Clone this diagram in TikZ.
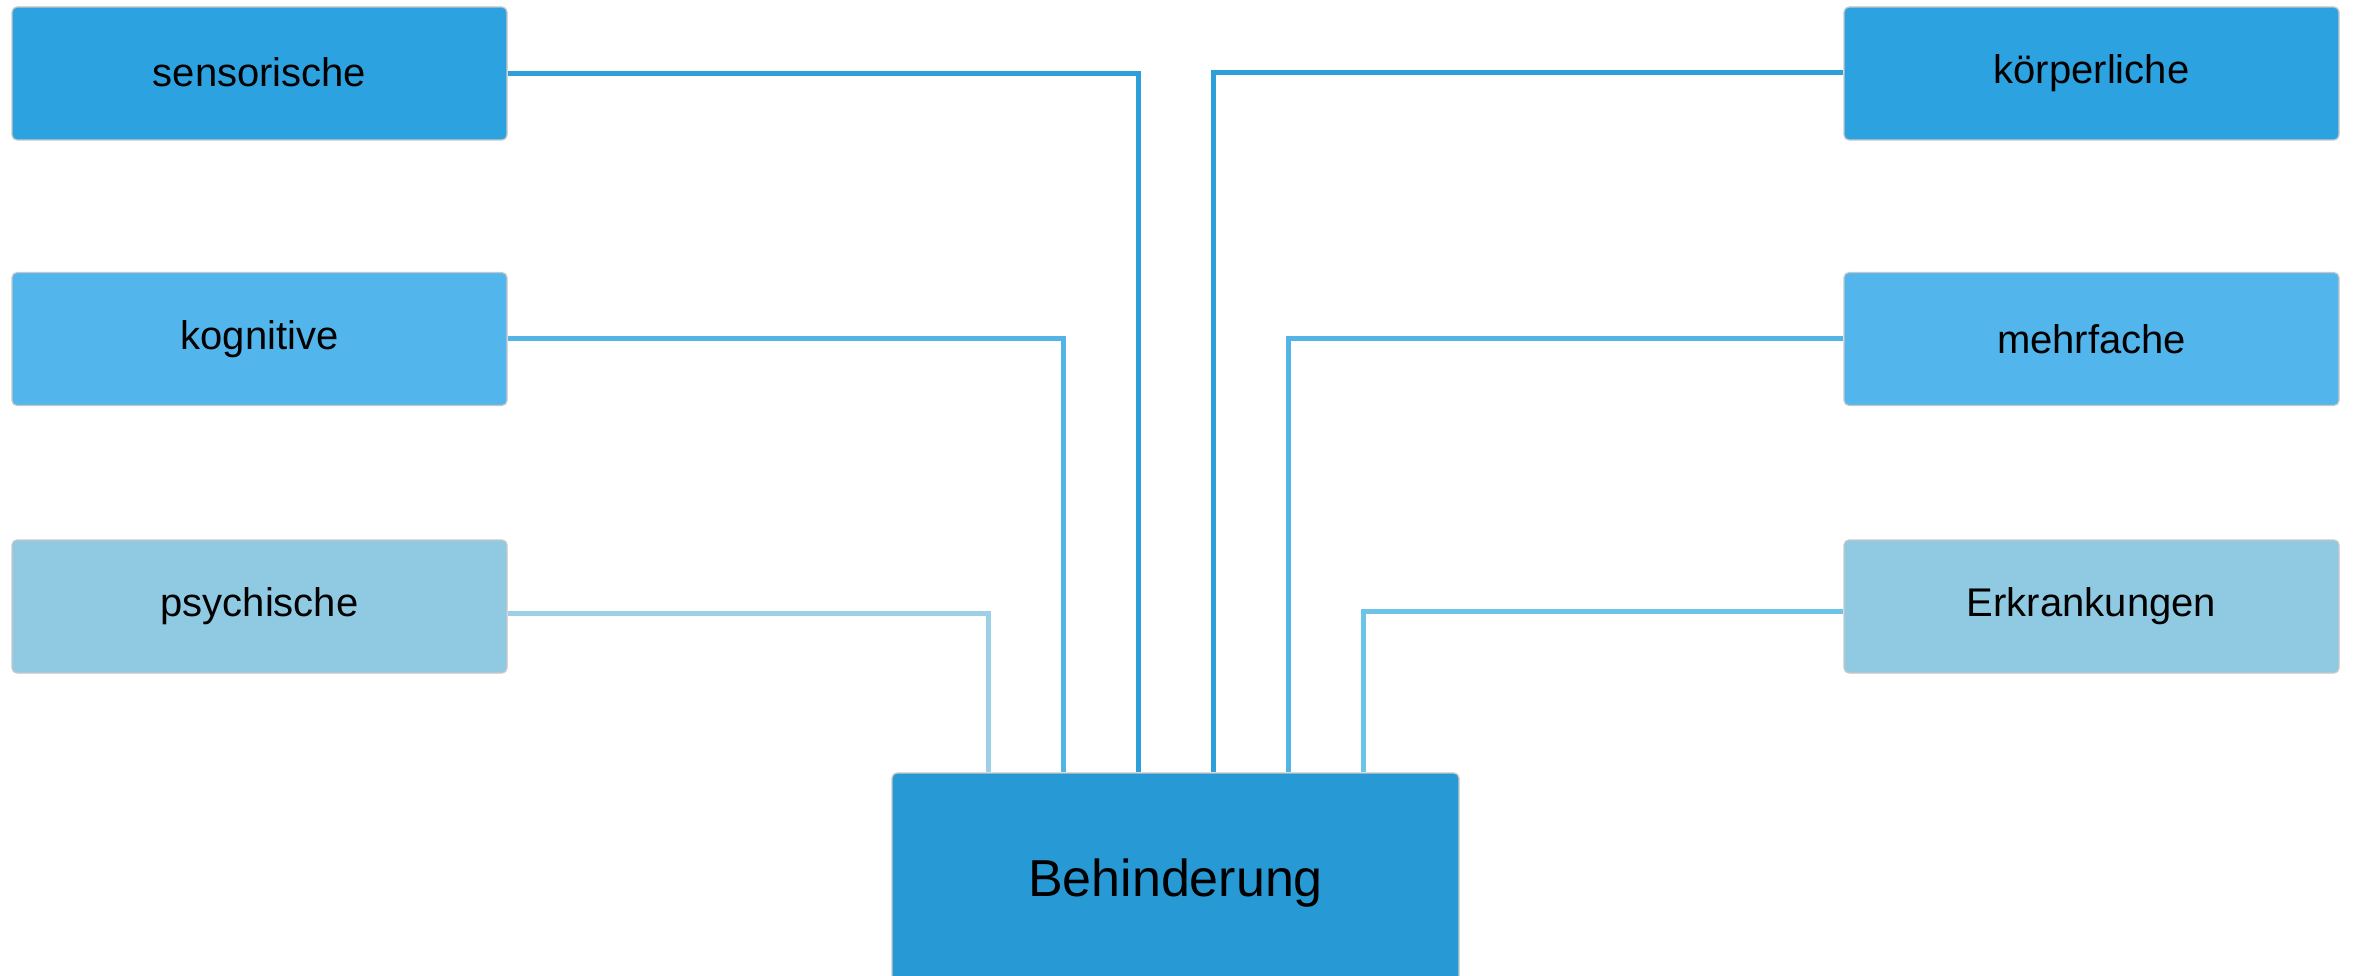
\documentclass[tikz,border=0pt]{standalone}
\usepackage{fontspec}
\setmainfont{Liberation Sans}
\begin{document}
\begin{tikzpicture}[x=1pt,y=-1pt,
  boxbase/.style={rectangle, rounded corners=5pt, draw=black!22, line width=1.2pt,
    minimum width=495pt, minimum height=133pt, inner sep=0pt, text=black,
    font=\fontsize{40}{48}\selectfont},
  darkbox/.style={boxbase, fill=boxdark},
  midbox/.style={boxbase, fill=boxmid},
  lightbox/.style={boxbase, fill=boxlight},
  linkdark/.style={draw=linedark, line width=5pt},
  linkmid/.style={draw=linemid, line width=5pt},
  linklight/.style={draw=linelight, line width=5pt},
  linkcyan/.style={draw=linecyan, line width=5pt}]
\definecolor{boxdark}{HTML}{2DA2E0}
\definecolor{boxmid}{HTML}{52B6EC}
\definecolor{boxlight}{HTML}{8FCAE2}
\definecolor{boxmain}{HTML}{279AD6}
\definecolor{linedark}{HTML}{2F9FDA}
\definecolor{linemid}{HTML}{55B4E6}
\definecolor{linelight}{HTML}{9DCFE6}
\definecolor{linecyan}{HTML}{6CC5E6}

\useasboundingbox (0,0) rectangle (2354,976);
\clip (0,0) rectangle (2354,976);

% left column
\node[darkbox]  (sens) at (259.5,73.5) {\raisebox{3pt}{sensorische}};
\node[midbox]   (kog)  at (259.5,339)  {kognitive};
\node[lightbox] (psy)  at (259.5,606.5){\raisebox{6pt}{psychische}};
% right column
\node[darkbox]  (koer) at (2091.5,73.5) {körperliche};
\node[midbox]   (mehr) at (2091.5,339)  {mehrfache};
\node[lightbox] (erk)  at (2091.5,606.5){\raisebox{-6pt}{Erkrankungen}};
% central box
\node[rectangle, rounded corners=5pt, draw=black!22, line width=1.2pt, fill=boxmain,
  minimum width=567pt, minimum height=220pt, inner sep=0pt,
  font=\fontsize{52}{62}\selectfont] (beh) at (1175.5,883) {\raisebox{-4pt}{Behinderung}};

% connectors
\coordinate (p1) at ([xshift=-187.5pt]beh.north);
\coordinate (p2) at ([xshift=-112pt]beh.north);
\coordinate (p3) at ([xshift=-37pt]beh.north);
\coordinate (p4) at ([xshift=37.5pt]beh.north);
\coordinate (p5) at ([xshift=112.5pt]beh.north);
\coordinate (p6) at ([xshift=187.5pt]beh.north);

\draw[linkdark]  (sens.east) -| (p3);
\draw[linkmid]   (kog.east) -| (p2);
\draw[linklight] ([yshift=-7pt]psy.east) -| (p1);
\draw[linkdark]  ([yshift=1pt]koer.west) -| (p4);
\draw[linkmid]   (mehr.west) -| (p5);
\draw[linkcyan]  ([yshift=-5pt]erk.west) -| (p6);
\end{tikzpicture}
\end{document}
